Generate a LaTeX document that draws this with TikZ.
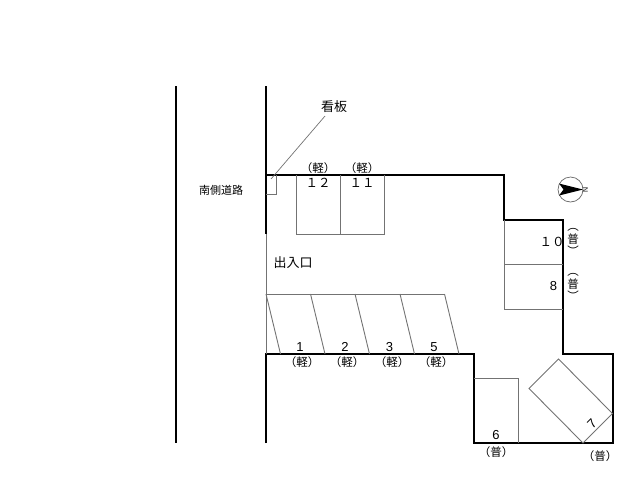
\documentclass[tikz,border=0pt]{standalone}
\usepackage{fontspec}
\usepackage{xcolor}
\setmainfont{Noto Sans CJK JP}
\newfontfamily\digitfont{Liberation Sans}
\usetikzlibrary{positioning}

\begin{document}
\begin{tikzpicture}[
    x=1pt, y=-1pt,
    wall/.style={draw=black, line width=2pt},
    slot/.style={draw=black!55, line width=0.9pt},
    label/.style={inner sep=0pt, font=\fontsize{11.5}{12}\selectfont},
    num/.style={inner sep=0pt, font=\digitfont\fontsize{13}{14}\selectfont},
    wnum/.style={inner sep=0pt, font=\fontsize{12.5}{14}\selectfont},
    vlabel/.style={inner sep=0pt, align=center, font=\fontsize{11.5}{11.5}\selectfont}
]
\useasboundingbox (0,0) rectangle (640,480);

% road and walls
\draw[wall] (176,86) -- (176,443);
\draw[wall] (266,86) -- (266,234);
\draw[wall] (266,443) -- (266,354) -- (474,354) -- (474,443) -- (613,443) -- (613,354) -- (563,354) -- (563,220) -- (504,220) -- (504,175) -- (266,175);
\draw[slot] (266,234) -- (266,354);

% sign
\draw[slot] (266,194) -- (276,194) -- (276,175);
\node[label, font=\fontsize{13}{14}\selectfont] (sign) at (334,107) {看板};
\coordinate (signfoot) at (271,179);
\draw[slot, line width=0.7pt] (signfoot) -- (325,116);

% slots 12, 11
\draw[slot] (296,175) -- (296,234) -- (384.5,234) -- (384.5,175);
\draw[slot] (340,175) -- (340,234);

% slots 10, 8
\draw[slot] (504,220) -- (504,309) -- (563,309);
\draw[slot] (504,264.5) -- (563,264.5);

% slots 1, 2, 3, 5
\draw[slot] (266,294) -- (444.5,294);
\foreach \xa in {266,310.5,355,400,444.5} {
    \draw[slot] (\xa,294) -- ({\xa+14.5},354);
}

% slot 6
\draw[slot] (474,378.5) -- (518.5,378.5) -- (518.5,443);

% slot 7
\draw[slot] (558.5,359) -- (529,388.5) -- (583,443) -- (612.5,413.5) -- cycle;

% compass
\node[circle, draw=black!60, line width=0.7pt, minimum size=25pt, inner sep=0pt] (compass) at (570.5,189.5) {};
\fill[black] (559,183.5) -- (583,189.5) -- (559,195.5) -- (563.5,189.5) -- cycle;
\node[inner sep=0pt, rotate=90, font=\digitfont\fontsize{7}{7}\selectfont] (north) at (585.5,189.5) {N};

% texts
\node[label, font=\fontsize{11}{12}\selectfont] (road) at (221,190) {南側道路};
\node[label, font=\fontsize{13}{14}\selectfont] (gate) at (293,263) {出入口};

\node[label] (k12) at (318,168) {（軽）};
\node[label] (k11) at (362,168) {（軽）};
\node[wnum] (n12) at (318,183) {１２};
\node[wnum] (n11) at (362,183) {１１};

\node[num] (n1) at (300,347) {1};
\node[num] (n2) at (345,347) {2};
\node[num] (n3) at (389.5,347) {3};
\node[num] (n5) at (434,347) {5};
\node[label] (k1) at (302,362) {（軽）};
\node[label] (k2) at (347,362) {（軽）};
\node[label] (k3) at (392,362) {（軽）};
\node[label] (k5) at (436,362) {（軽）};

\node[wnum] (n10) at (552,242) {１０};
\node[num] (n8) at (553.5,286) {8};
\node[vlabel] (f10) at (573,242) {︵\\[1pt]普\\[1pt]︶};
\node[vlabel] (f8) at (573,287) {︵\\[1pt]普\\[1pt]︶};

\node[num] (n6) at (496,435) {6};
\node[label] (f6) at (496,452) {（普）};
\node[num, rotate=45] (n7) at (592,424) {7};
\node[label] (f7) at (600,456) {（普）};

\end{tikzpicture}
\end{document}
